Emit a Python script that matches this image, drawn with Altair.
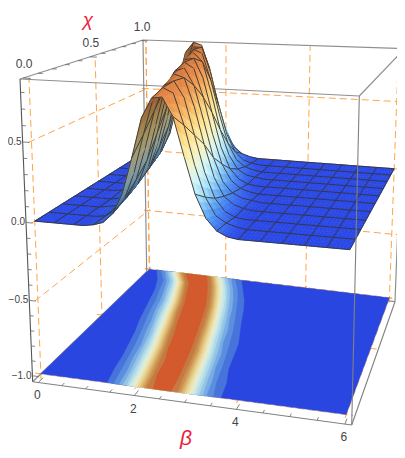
import numpy as np
import altair as alt

# ---------- values ----------
beta_values = [round(0.2 * i, 1) for i in range(31)]
chi_values = [0.0, 0.1, 0.2, 0.3, 0.4, 0.5, 0.6, 0.7, 0.8, 0.9, 1.0]
# height of the surface; columns beta = 0, 0.2 ... 4.0 (flat zero beyond)
z_chi_00 = [0,0,0,0,0,0,.01,.03,.09,.22,.44,.68,.80,.81,.70,.47,.25,.11,.04,.01,0]
z_chi_01 = [0,0,0,0,0,0,.01,.05,.13,.30,.54,.76,.83,.80,.61,.37,.18,.07,.03,.01,0]
z_chi_02 = [0,0,0,0,0,.01,.02,.08,.20,.41,.65,.81,.84,.74,.51,.28,.12,.04,.01,0,0]
z_chi_03 = [0,0,0,0,0,.01,.04,.12,.28,.52,.76,.85,.83,.65,.41,.20,.08,.03,.01,0,0]
z_chi_04 = [0,0,0,0,.01,.02,.08,.19,.42,.67,.84,.86,.75,.52,.28,.12,.05,.02,.01,0,0]
z_chi_05 = [0,0,0,0,.01,.05,.13,.32,.56,.79,.87,.83,.64,.39,.19,.08,.03,.01,0,0,0]
z_chi_06 = [0,0,0,.01,.03,.09,.23,.46,.72,.86,.87,.74,.50,.26,.11,.04,.01,0,0,0,0]
z_chi_07 = [0,0,0,.01,.05,.14,.34,.60,.82,.88,.82,.60,.34,.16,.06,.02,.01,0,0,0,0]
z_chi_08 = [0,0,.01,.03,.10,.26,.52,.77,.88,.85,.66,.41,.20,.08,.03,.01,0,0,0,0,0]
z_chi_09 = [0,.01,.02,.07,.20,.44,.72,.87,.87,.69,.44,.22,.09,.03,.01,0,0,0,0,0,0]
z_chi_10 = [.01,.03,.10,.28,.56,.80,.88,.86,.68,.42,.20,.08,.03,.01,0,0,0,0,0,0,0]
z_rows = [z_chi_00, z_chi_01, z_chi_02, z_chi_03, z_chi_04, z_chi_05,
          z_chi_06, z_chi_07, z_chi_08, z_chi_09, z_chi_10]

contour_levels = [.03,.07,.12,.17,.22,.27,.32,.37,.42,.47,.52,.57,.62,.68,.76]
contour_colors = ["#4674da","#5c8ee0","#78ace4","#94c4e6","#aed8e8","#c4e6e8","#d8ecdf",
                  "#ebeac4","#ebe0aa","#e6d292","#dfbd78","#d6a862","#cb8f4e","#c47a42","#d25a2c"]
floor_color = "#2a46e0"

surface_stops = [0, .03, .1, .2, .3, .4, .5, .6, .7, .8, .9]
surface_colors = ["#2a48e6","#3a6cf0","#5aa0f5","#9fdcfa","#d0f5fa","#f5f5c8",
                  "#fde89a","#fbcf78","#f3a85a","#e88a48","#c9743c"]

beta_major = [0, 2, 4, 6]
beta_minor = [0.5, 1, 1.5, 2.5, 3, 3.5, 4.5, 5, 5.5]
chi_major = [0.0, 0.5, 1.0]
chi_minor = [.1, .2, .3, .4, .6, .7, .8, .9]
z_major = [-1.0, -0.5, 0.0, 0.5]
z_minor = [-.9, -.8, -.7, -.6, -.4, -.3, -.2, -.1, .1, .2, .3, .4, .6, .7, .8]

# ---------- camera: box extent and where its corners appear ----------
B0, B1 = -0.12, 6.12
C0, C1 = -0.02, 1.02
Z0, Z1 = -1.04, 0.88
corners_3d = [(B0,C0,Z1),(B0,C1,Z1),(B1,C1,Z1),(B1,C0,Z1),(B0,C0,Z0),(B0,C1,Z0),(B1,C1,Z0),(B1,C0,Z0)]
corners_px = [(20,79),(143,40),(404.7,48.7),(359.3,96),(32.7,381.7),(146.7,271.7),(395,301.7),(351.7,425)]

def norm(b, c, z):
    return [(b-B0)/(B1-B0), (c-C0)/(C1-C0), (z-Z0)/(Z1-Z0), 1.0]

A = []
for (b, c, z), (u, v) in zip(corners_3d, corners_px):
    X = norm(b, c, z)
    u, v = u/400, v/400
    A.append(X + [0,0,0,0] + [-u*x for x in X])
    A.append([0,0,0,0] + X + [-v*x for x in X])
P = np.linalg.svd(np.array(A))[2][-1].reshape(3, 4)
if P[2] @ np.array(norm(3, .5, 0)) < 0:
    P = -P
corner_w = [float(P[2] @ np.array(norm(*q))) for q in corners_3d]

def proj(b, c, z):
    t, s, r, _ = norm(b, c, z)
    num_x = num_y = den = 0.0
    for (cb, cc, cz), (u, v), w in zip(corners_3d, corners_px, corner_w):
        nb = t if cb == B1 else 1-t
        nc = s if cc == C1 else 1-s
        nz = r if cz == Z1 else 1-r
        n = nb*nc*nz*w
        num_x += n*u
        num_y += n*v
        den += n
    return [num_x/den-8, num_y/den-8]

def depth(b, c, z):
    return float(P[2] @ np.array(norm(b, c, z)))

def line(pts, **props):
    return {"type": "Feature", "properties": props,
            "geometry": {"type": "LineString", "coordinates": [proj(*p) for p in pts]}}

def poly(pts, **props):
    ring = [proj(*p) for p in pts]
    ring.append(ring[0])
    return {"type": "Feature", "properties": props,
            "geometry": {"type": "Polygon", "coordinates": [ring]}}

# ---------- surface ----------
beta = np.array(beta_values)
chi = np.array(chi_values)
Z = np.array([r + [0.0]*(len(beta)-len(r)) for r in z_rows], dtype=float)
dzdb = np.gradient(Z, beta, axis=1)

def hex2rgb(h):
    return [int(h[i:i+2], 16) for i in (1, 3, 5)]
rgb = np.array([hex2rgb(h) for h in surface_colors], dtype=float)

def shade_color(z, slope):
    col = np.array([np.interp(z, surface_stops, rgb[:, k]) for k in range(3)])
    s = np.clip(slope/0.55, 0, 1)
    col = col * (1 - 0.36*s)
    return "#%02x%02x%02x" % tuple(int(round(v)) for v in col)

quads = []
for i in range(len(chi)-1):
    for j in range(len(beta)-1):
        d = depth((beta[j]+beta[j+1])/2, (chi[i]+chi[i+1])/2, Z[i:i+2, j:j+2].mean())
        quads.append((d, i, j))
quads.sort(reverse=True)

def edges_of(i, j):
    out = [("c", i, j), ("c", i+1, j)]
    if j % 2 == 0:
        out.append(("b", i, j))
    if (j+1) % 2 == 0:
        out.append(("b", i, j+1))
    return out

remaining = {}
for _, i, j in quads:
    for e in edges_of(i, j):
        remaining[e] = remaining.get(e, 0) + 1

NB, NC = 3, 2
features = []
for _, i, j in quads:
    for a in range(NC):
        for k in range(NB):
            def pt(ta, tk):
                z = (Z[i,j]*(1-ta)*(1-tk) + Z[i,j+1]*(1-ta)*tk + Z[i+1,j]*ta*(1-tk) + Z[i+1,j+1]*ta*tk)
                return (beta[j]+(beta[j+1]-beta[j])*tk, chi[i]+(chi[i+1]-chi[i])*ta, z)
            t0, t1, k0, k1 = a/NC, (a+1)/NC, k/NB, (k+1)/NB
            tm, km = (t0+t1)/2, (k0+k1)/2
            zm = pt(tm, km)[2]
            sl = (dzdb[i,j]*(1-tm)*(1-km) + dzdb[i,j+1]*(1-tm)*km + dzdb[i+1,j]*tm*(1-km) + dzdb[i+1,j+1]*tm*km)
            col = shade_color(zm, sl)
            features.append(poly([pt(t0,k0), pt(t0,k1), pt(t1,k1), pt(t1,k0)], fill=col, stroke=col, sw=0.6))
    for e in edges_of(i, j):
        remaining[e] -= 1
        if remaining[e] == 0:
            kind, a, b = e
            if kind == "c":
                pts = [(beta[b], chi[a], Z[a,b]), (beta[b+1], chi[a], Z[a,b+1])]
            else:
                pts = [(beta[b], chi[a], Z[a,b]), (beta[b], chi[a+1], Z[a+1,b])]
            features.append(line(pts, fill="none", stroke="#333333", sw=0.9))

# ---------- floor contours ----------
floor_z = -1.0
floor = [poly([(0,0,floor_z),(6,0,floor_z),(6,1,floor_z),(0,1,floor_z)], fill=floor_color, stroke=floor_color, sw=0.3)]
for L, col in zip(contour_levels, contour_colors):
    left, right = [], []
    for i, c in enumerate(chi):
        r = Z[i]
        idx = np.where(r >= L)[0]
        j0, j1 = idx[0], idx[-1]
        bl = beta[0] if j0 == 0 else beta[j0-1] + (L-r[j0-1])/(r[j0]-r[j0-1])*0.2
        br = beta[-1] if j1 == len(r)-1 else beta[j1] + (r[j1]-L)/(r[j1]-r[j1+1])*0.2
        left.append((bl, c, floor_z))
        right.append((br, c, floor_z))
    floor.append(poly(left + right[::-1], fill=col, stroke=col, sw=0.3))

# ---------- grids, frame, ticks ----------
grid = []
for c in chi_major:
    grid.append(line([(0,c,Z0),(0,c,Z1)]))
for z in z_major:
    grid.append(line([(0,C0,z),(0,C1,z)]))
    grid.append(line([(B0,1,z),(B1,1,z)]))
for b in beta_major:
    grid.append(line([(b,1,Z0),(b,1,Z1)]))
    grid.append(line([(b,C0,-1),(b,C1,-1)]))
for c in chi_major:
    grid.append(line([(B0,c,-1),(B1,c,-1)]))

def edge(a, b):
    return line([corners_3d[a], corners_3d[b]])
frame_back = [edge(0,1), edge(1,2), edge(2,3), edge(0,3), edge(1,5), edge(5,6), edge(6,2), edge(4,5)]
frame_front = [edge(3,7), edge(4,7), edge(6,7)]
frame_dark = [edge(0,4)]

ticks = []
for b in beta_major:
    ticks.append(line([(b,C0,Z0),(b,C0+.035,Z0)]))
for b in beta_minor:
    ticks.append(line([(b,C0,Z0),(b,C0+.02,Z0)]))
for c in chi_major:
    ticks.append(line([(B0,c,Z1),(B0+.16,c,Z1)]))
for c in chi_minor:
    ticks.append(line([(B0,c,Z1),(B0+.1,c,Z1)]))
for z in z_major:
    ticks.append(line([(B0,C0,z),(B0+.14,C0,z)]))
for z in z_minor:
    ticks.append(line([(B0,C0,z),(B0+.08,C0,z)]))

# ---------- text ----------
labels_center = []
for b in beta_major:
    x, y = proj(b, C0, Z0)
    labels_center.append({"x": x-1, "y": y+13, "t": str(b)})
for c in chi_major:
    x, y = proj(B0, c, Z1)
    labels_center.append({"x": x+1, "y": y-14, "t": f"{c:.1f}"})
labels_right = []
for z in z_major:
    x, y = proj(B0, C0, z)
    labels_right.append({"x": x-1, "y": y, "t": f"{z:.1f}".replace("-", "\u2212")})
titles = [{"x": 80, "y": 12, "t": "\u03c7"}, {"x": 178, "y": 431, "t": "\u03b2"}]

# ---------- chart ----------
W, H = 389, 442

def lines_layer(items, **mark):
    return alt.Chart(alt.Data(values=items)).mark_geoshape(filled=False, **mark).project(
        type="identity", scale=1, translate=[0, 0], reflectY=False)

def shapes_layer(items):
    return alt.Chart(alt.Data(values=items)).mark_geoshape().encode(
        fill=alt.Fill("properties.fill:N", scale=None),
        stroke=alt.Stroke("properties.stroke:N", scale=None),
        strokeWidth=alt.StrokeWidth("properties.sw:Q", scale=None),
    ).project(type="identity", scale=1, translate=[0, 0], reflectY=False)

def text_layer(items, **mark):
    return alt.Chart(alt.Data(values=items)).mark_text(baseline="middle", **mark).encode(
        longitude="x:Q", latitude="y:Q", text="t:N"
    ).project(type="identity", scale=1, translate=[0, 0], reflectY=False)

grid_style = dict(stroke="#ffa040", strokeWidth=1.0, strokeDash=[7, 4], opacity=0.95)
font = "Liberation Sans"

chart = alt.layer(
    lines_layer(grid, **grid_style),
    lines_layer(frame_back, stroke="#8f8f8f", strokeWidth=1.2),
    shapes_layer(floor),
    shapes_layer(features),
    lines_layer(frame_front, stroke="#808080", strokeWidth=1.1),
    lines_layer(frame_dark, stroke="#555555", strokeWidth=1.1),
    lines_layer(ticks, stroke="#666666", strokeWidth=0.8),
    text_layer(labels_center, align="center", font=font, fontSize=12, color="#444444"),
    text_layer(labels_right, align="right", font=font, fontSize=10, color="#444444"),
    text_layer(titles[:1], align="center", font=font, fontSize=19, fontStyle="italic", color="#ee1c3a"),
    text_layer(titles[1:], align="center", font=font, fontSize=21, fontStyle="italic", color="#ee1c3a"),
).properties(width=W, height=H, padding=0, autosize="none", background="white").configure_view(stroke=None)

chart.save("out.html", embed_options={"renderer": "svg", "actions": False})
